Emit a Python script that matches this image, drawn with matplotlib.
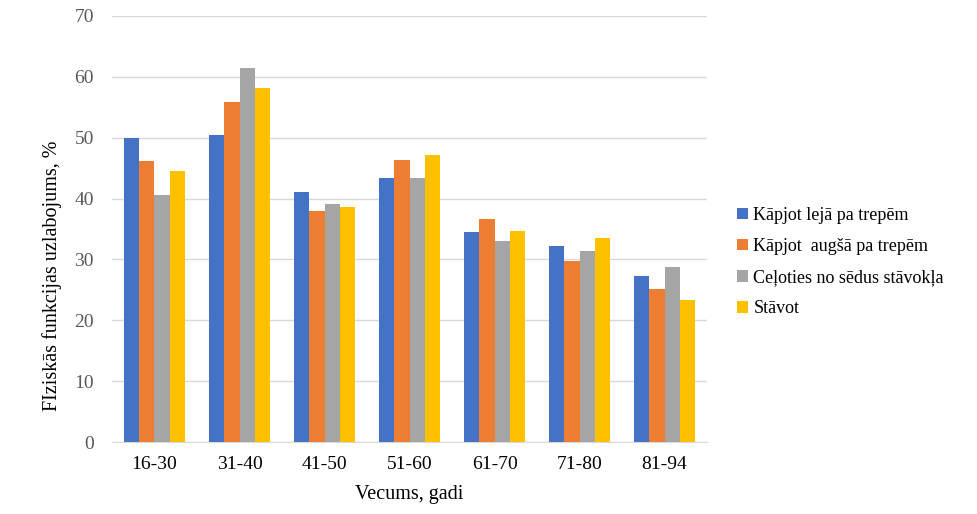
import numpy as np
import matplotlib
matplotlib.use('Agg')
import matplotlib.pyplot as plt

plt.rcParams['font.family'] = ['Liberation Serif', 'DejaVu Serif']

# Vecuma grupas un vērtības (%)
age_groups = ['16-30', '31-40', '41-50', '51-60', '61-70', '71-80', '81-94']
series_names = ['Kāpjot lejā pa trepēm', 'Kāpjot  augšā pa trepēm',
                'Ceļoties no sēdus stāvokļa', 'Stāvot']
down_stairs = [50.0, 50.5, 41.0, 43.3, 34.5, 32.2, 27.3]
up_stairs = [46.1, 55.8, 38.0, 46.4, 36.7, 29.8, 25.2]
standing_up = [40.6, 61.5, 39.1, 43.3, 33.0, 31.4, 28.8]
standing = [44.6, 58.2, 38.6, 47.2, 34.7, 33.6, 23.4]
colors = ['#4472C4', '#ED7D31', '#A5A5A5', '#FFC000']

fig = plt.figure(figsize=(9.78, 5.14), dpi=100)
ax = fig.add_axes([0.1145, 0.140, 0.6085, 0.829])

x = np.arange(len(age_groups))
width = 0.18
all_series = [down_stairs, up_stairs, standing_up, standing]
for i, vals in enumerate(all_series):
    ax.bar(x + (i - 1.5) * width, vals, width, color=colors[i],
           label=series_names[i], zorder=3)

ax.set_xlim(-0.5, len(age_groups) - 0.5)
ax.set_ylim(0, 70)
ax.set_yticks(range(0, 71, 10))
ax.set_xticks(x)
ax.set_xticklabels(age_groups)
ax.grid(axis='y', color='#D9D9D9', linewidth=1, zorder=0)
for s in ['top', 'right', 'left']:
    ax.spines[s].set_visible(False)
ax.spines['bottom'].set_color('#D9D9D9')
ax.tick_params(axis='y', length=0, labelsize=14, colors='#595959', pad=13)
ax.tick_params(axis='x', length=0, labelsize=14, colors='black', pad=10)

ax.set_ylabel('FIziskās funkcijas uzlabojums, %', fontsize=14.5)
ax.yaxis.set_label_coords(-0.084, 0.39)
ax.set_xlabel('Vecums, gadi', fontsize=14.5, labelpad=9)

fig.legend(loc='center left', bbox_to_anchor=(0.737, 0.49), frameon=False,
           prop={'family': 'Liberation Serif', 'size': 13},
           handlelength=0.6, handleheight=0.6, handletextpad=0.3,
           labelspacing=0.78)

fig.savefig('out.png', dpi=100)
